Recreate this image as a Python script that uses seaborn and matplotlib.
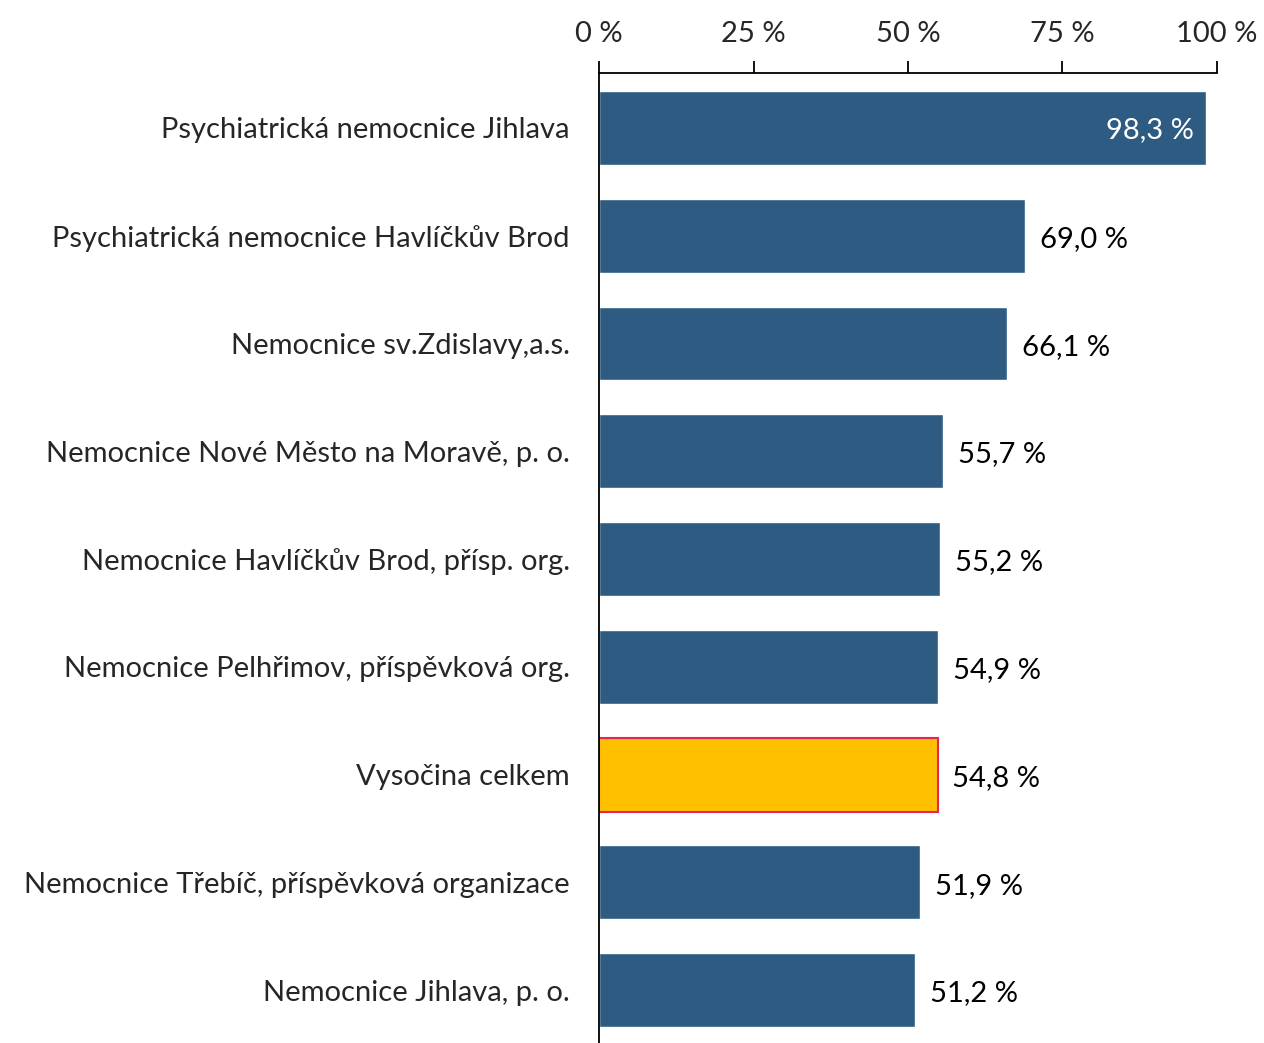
import pandas as pd
import numpy as np
import matplotlib.pyplot as plt
import seaborn as sns

hospitals = [
    "Psychiatrická nemocnice Jihlava",
    "Psychiatrická nemocnice Havlíčkův Brod",
    "Nemocnice sv.Zdislavy,a.s.",
    "Nemocnice Nové Město na Moravě, p. o.",
    "Nemocnice Havlíčkův Brod, přísp. org.",
    "Nemocnice Pelhřimov, příspěvková org.",
    "Vysočina celkem",
    "Nemocnice Třebíč, příspěvková organizace",
    "Nemocnice Jihlava, p. o.",
]
shares = [98.3, 69.0, 66.1, 55.7, 55.2, 54.9, 54.8, 51.9, 51.2]
highlight = "Vysočina celkem"
ticks = [0, 25, 50, 75, 100]

data = pd.DataFrame({"hospital": hospitals, "share": shares})

sns.set_style("white")
plt.rcParams["font.family"] = ["Lato", "DejaVu Sans"]

blue = "#2E5B82"
yellow = "#FFC000"
palette = {h: (yellow if h == highlight else blue) for h in hospitals}
fs = 21

fig = plt.figure(figsize=(12.64, 10.43), dpi=100)
ax = fig.add_axes([0.4739, 0.0, 0.4889, 0.93])

sns.barplot(data=data, y="hospital", x="share", hue="hospital", palette=palette,
            orient="h", width=0.685, legend=False, ax=ax, saturation=1)

for patch, h in zip(ax.patches, hospitals):
    if h == highlight:
        patch.set_edgecolor("#E2264D")
        patch.set_linewidth(1.5)

ax.set_xlim(0, 100)
ax.set_ylim(8.49, -0.51)
ax.set_xticks(ticks)
ax.set_xticklabels([f"{t} %" for t in ticks], fontsize=fs)
ax.xaxis.tick_top()
ax.tick_params(axis="x", direction="out", length=9, width=1.3, color="black", pad=10)
ax.tick_params(axis="y", length=0, pad=21, labelsize=fs)
ax.set_xlabel("")
ax.set_ylabel("")

for s in ["right", "bottom"]:
    ax.spines[s].set_visible(False)
for s in ["left", "top"]:
    ax.spines[s].set_color("black")
    ax.spines[s].set_linewidth(1.3)

for i, v in enumerate(shares):
    txt = f"{v:.1f}".replace(".", ",") + " %"
    if v > 90:
        ax.text(v - 2, i + 0.02, txt, ha="right", va="center", color="white", fontsize=fs)
    else:
        ax.text(v + 2.4, i + 0.03, txt, ha="left", va="center", color="black", fontsize=fs)

fig.savefig("out.png", dpi=100)
